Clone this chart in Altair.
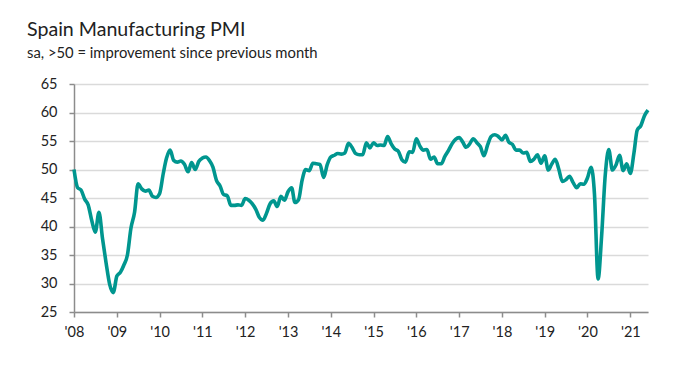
import altair as alt
import pandas as pd

# Spain Manufacturing PMI, monthly (Jan 2008 - Jun 2021)
v2008 = [50.0, 46.8, 46.4, 44.8, 43.8, 41.0, 39.0, 42.5, 37.8, 33.6, 29.8, 28.4]
v2009 = [31.3, 32.0, 33.2, 35.0, 39.7, 42.5, 47.5, 46.6, 46.2, 46.4, 45.3, 45.1]
v2010 = [45.8, 49.3, 52.0, 53.4, 51.6, 51.3, 51.5, 50.9, 49.6, 51.2, 50.0, 51.4]
v2011 = [52.0, 52.2, 51.6, 50.4, 48.1, 47.1, 45.6, 45.4, 43.7, 43.7, 43.8, 43.7]
v2012 = [44.9, 44.6, 44.0, 43.0, 41.6, 41.1, 42.3, 44.0, 44.5, 43.5, 45.3, 44.6]
v2013 = [46.1, 46.8, 44.2, 44.7, 48.1, 50.0, 49.8, 51.1, 51.0, 50.9, 48.6, 50.8]
v2014 = [52.2, 52.5, 52.8, 52.7, 52.9, 54.6, 53.9, 52.8, 52.6, 52.6, 54.7, 53.8]
v2015 = [54.7, 54.2, 54.3, 54.2, 55.8, 54.5, 53.6, 53.2, 51.7, 51.3, 53.1, 53.0]
v2016 = [55.4, 54.1, 53.4, 53.5, 51.8, 52.2, 51.0, 51.0, 52.3, 53.3, 54.5, 55.3]
v2017 = [55.6, 54.8, 53.9, 54.5, 55.4, 54.7, 54.0, 52.4, 54.3, 55.8, 56.1, 55.8]
v2018 = [55.2, 56.0, 54.8, 54.4, 53.4, 53.4, 52.9, 53.0, 51.4, 51.8, 52.6, 51.1]
v2019 = [52.4, 49.9, 50.9, 51.8, 50.1, 47.9, 48.2, 48.8, 47.7, 46.8, 47.5, 47.4]
v2020 = [48.5, 50.4, 45.7, 30.8, 38.3, 49.0, 53.5, 49.9, 50.8, 52.5, 49.8, 51.0]
v2021 = [49.3, 52.9, 56.9, 57.7, 59.4, 60.4]

start_month = "2008-01-01"
tick_years = list(range(2008, 2022))
y_ticks = [25, 30, 35, 40, 45, 50, 55, 60, 65]

title_text = "Spain Manufacturing PMI"
subtitle_text = "sa, >50 = improvement since previous month"

values = (v2008 + v2009 + v2010 + v2011 + v2012 + v2013 + v2014 + v2015
          + v2016 + v2017 + v2018 + v2019 + v2020 + v2021)
dates = pd.date_range(start_month, periods=len(values), freq="MS")
df = pd.DataFrame({"date": dates.strftime("%Y-%m-%d"), "pmi": values})

FONT = "Lato"
TXT = "#222222"

x_vals = [alt.DateTime(year=y, month=1, date=1) for y in tick_years]

chart = alt.Chart(df).mark_line(
    color="#00968F", strokeWidth=3.6, interpolate="monotone"
).encode(
    x=alt.X(
        "date:T",
        scale=alt.Scale(
            domain=[alt.DateTime(year=2008, month=1, date=1),
                    alt.DateTime(year=2021, month=6, date=1)],
            nice=False,
        ),
        axis=alt.Axis(
            values=x_vals, format="'%y", title=None, grid=False,
            domainColor="#8c8c8c", domainWidth=1.5, tickColor="#8c8c8c",
            tickWidth=1.5, tickSize=5, labelFont=FONT, labelFontSize=14.5,
            labelColor=TXT, labelPadding=8, labelFlush=False,
            labelOverlap=False,
        ),
    ),
    y=alt.Y(
        "pmi:Q",
        scale=alt.Scale(domain=[25, 65], nice=False, zero=False),
        axis=alt.Axis(
            values=y_ticks, title=None, grid=True, gridColor="#dadada",
            gridWidth=1.5, domainColor="#8c8c8c", domainWidth=1.5,
            tickColor="#8c8c8c", tickWidth=1.5, tickSize=5,
            labelFont=FONT, labelFontSize=14.5, labelColor=TXT,
            labelPadding=12,
        ),
    ),
).properties(
    width=574,
    height=228,
    padding={"left": 66, "top": 76, "right": 30, "bottom": 30},
    autosize=alt.AutoSizeParams(type="none"),
    title=alt.TitleParams(
        text=title_text,
        subtitle=subtitle_text,
        anchor="start",
        frame="group",
        dx=-47,
        offset=14,
        font=FONT,
        fontSize=19.6,
        fontWeight="normal",
        color=TXT,
        subtitleFont=FONT,
        subtitleFontSize=14.8,
        subtitleColor=TXT,
        subtitlePadding=6,
    ),
).configure_view(stroke=None)

chart.save("out.html", embed_options={"renderer": "svg", "actions": False})
